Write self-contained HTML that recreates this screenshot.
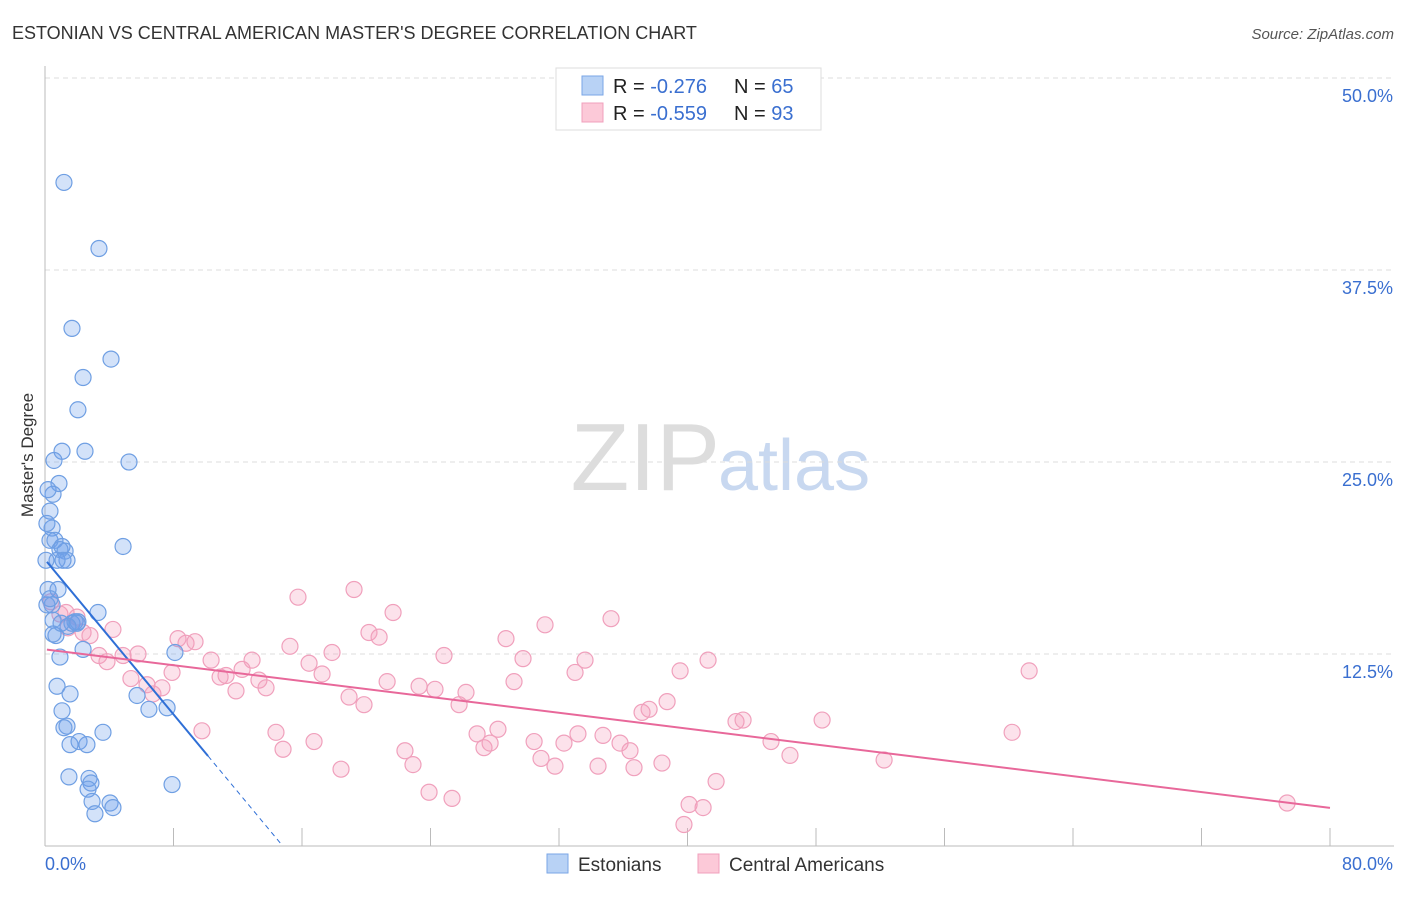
<!DOCTYPE html>
<html><head><meta charset="utf-8"><style>
body{margin:0;background:#fff;font-family:"Liberation Sans",sans-serif;}
svg text{font-family:"Liberation Sans",sans-serif;}
</style></head><body>
<svg id="chart" width="1406" height="892">
<text x="12" y="39" font-size="18" fill="#333">ESTONIAN VS CENTRAL AMERICAN MASTER'S DEGREE CORRELATION CHART</text>
<text x="1394" y="39" font-size="15" fill="#555" font-style="italic" text-anchor="end">Source: ZipAtlas.com</text>
<text x="720" y="490" font-size="96" fill="#ddd" text-anchor="end" font-family="Liberation Serif">ZIP</text>
<text x="718" y="490" font-size="72" fill="#c8d8f0">atlas</text>
<text x="33" y="455" font-size="17" fill="#333" text-anchor="middle" transform="rotate(-90 33 455)">Master's Degree</text>
<g id="grid"></g><g id="ticks"></g><g id="marks"></g>
<g>
<rect x="556" y="68" width="265" height="62" fill="#fff" stroke="#ddd"/>
<rect x="582" y="76" width="21" height="19" fill="#b8d2f5" stroke="#7aa6e6"/>
<rect x="582" y="103" width="21" height="19" fill="#fcc9d8" stroke="#f0a0bc"/>
<text x="613" y="93" font-size="20" fill="#222">R = <tspan fill="#3a6fd0"> -0.276</tspan><tspan x="734">N = </tspan><tspan fill="#3a6fd0">65</tspan></text>
<text x="613" y="120" font-size="20" fill="#222">R = <tspan fill="#3a6fd0">-0.559</tspan><tspan x="734">N = </tspan><tspan fill="#3a6fd0">93</tspan></text>
</g>
<g>
<rect x="547" y="854" width="21" height="19" fill="#b8d2f5" stroke="#7aa6e6"/>
<text x="578" y="871" font-size="19" fill="#333">Estonians</text>
<rect x="698" y="854" width="21" height="19" fill="#fcc9d8" stroke="#f0a0bc"/>
<text x="729" y="871" font-size="19" fill="#333">Central Americans</text>
</g>
</svg>
<script>
const blueX=[1.18,3.36,1.68,4.11,2.37,2.05,1.06,2.49,0.56,5.23,0.87,0.50,0.19,0.31,0.44,0.12,0.31,0.62,1.06,1.25,0.93,1.37,0.75,0.06,0.19,0.81,0.44,3.30,0.50,1.87,1.68,2.05,0.68,2.37,0.93,4.86,8.09,0.75,1.56,5.73,6.47,7.60,1.06,1.37,1.18,3.61,1.56,2.12,2.61,1.49,2.74,2.86,2.68,7.91,2.93,4.05,4.23,3.11,0.50,1.43,1.12,0.12,1.99,1.00,0.31];
const blueY=[43.2,38.9,33.7,31.7,30.5,28.4,25.7,25.7,25.1,25.0,23.6,22.9,23.2,21.8,20.7,21.0,19.9,19.9,19.5,19.2,19.3,18.6,18.6,18.6,16.7,16.7,15.7,15.2,14.7,14.6,14.5,14.6,13.7,12.8,12.3,19.5,12.6,10.4,9.9,9.8,8.9,9.0,8.8,7.8,7.7,7.4,6.6,6.8,6.6,4.5,4.4,4.1,3.7,4.0,2.9,2.8,2.5,2.1,13.8,14.3,18.6,15.7,14.5,14.5,16.1];
const pinkX=[0.37,0.93,1.31,1.99,1.43,2.37,2.80,4.23,3.36,3.86,4.86,5.79,5.35,6.35,6.72,7.28,7.91,8.28,8.78,9.34,9.77,10.34,10.90,11.27,11.89,12.27,12.89,13.32,13.76,14.38,14.82,15.25,15.75,16.44,16.75,17.25,17.87,18.43,18.93,19.24,19.86,20.17,20.80,21.30,21.67,22.41,22.91,23.29,23.91,24.28,24.84,25.34,25.78,26.21,26.90,27.33,27.71,28.20,28.70,29.20,29.76,30.45,30.88,31.13,31.75,32.31,33.00,33.18,33.62,34.43,34.74,35.24,35.80,36.42,36.67,37.17,37.61,38.41,38.73,39.54,40.10,39.78,40.97,41.28,41.78,43.02,43.46,45.20,46.38,48.38,52.24,60.21,61.27,77.33];
const pinkY=[15.9,15.1,15.2,14.9,14.2,13.9,13.7,14.1,12.4,12.0,12.4,12.5,10.9,10.5,9.9,10.3,11.3,13.5,13.2,13.3,7.5,12.1,11.0,11.1,10.1,11.5,12.1,10.8,10.3,7.4,6.3,13.0,16.2,11.9,6.8,11.2,12.6,5.0,9.7,16.7,9.2,13.9,13.6,10.7,15.2,6.2,5.3,10.4,3.5,10.2,12.4,3.1,9.2,10.0,7.3,6.4,6.7,7.6,13.5,10.7,12.2,6.8,5.7,14.4,5.2,6.7,11.3,7.3,12.1,5.2,7.2,14.8,6.7,6.2,5.1,8.7,8.9,5.4,9.4,11.4,2.7,1.4,2.5,12.1,4.2,8.1,8.2,6.8,5.9,8.2,5.6,7.4,11.4,2.8];
const yTicks=[12.5,25.0,37.5,50.0];
const xTickVals=[0,8,16,24,32,40,48,56,64,72,80];
const blueTrend=[18.65,-1.26];
const pinkTrend=[12.8,-0.129];
const NS='http://www.w3.org/2000/svg';
const sx=v=>45+v/80*1285, sy=v=>846-v*15.36;
function mk(tag,attrs,parent){const e=document.createElementNS(NS,tag);for(const k in attrs)e.setAttribute(k,attrs[k]);document.getElementById(parent).appendChild(e);return e;}
yTicks.forEach(t=>{
 const l=mk('line',{x1:45,x2:1394,y1:sy(t),y2:sy(t),stroke:'#ddd','stroke-dasharray':'5,4'},'grid');
 
 
 const tx=mk('text',{x:1393,y:sy(t)+24,'font-size':18,fill:'#3a6fd0','text-anchor':'end'},'ticks');tx.textContent=t.toFixed(1)+'%';
 
 
});
const ax=mk('line',{x1:45,x2:1394,y1:846,y2:846,stroke:'#bbb'},'grid');


const ay=mk('line',{x1:45,x2:45,y1:66,y2:846,stroke:'#bbb'},'grid');


xTickVals.forEach(t=>{
 const l=mk('line',{x1:sx(t),x2:sx(t),y1:828,y2:846,stroke:'#bbb'},'ticks');
 
 
});
const x0=mk('text',{x:45,y:870,'font-size':18,fill:'#3a6fd0'},'ticks');x0.textContent='0.0%';


const x1=mk('text',{x:1393,y:870,'font-size':18,fill:'#3a6fd0','text-anchor':'end'},'ticks');x1.textContent='80.0%';


pinkX.forEach((v,i)=>{
 const c=mk('circle',{cx:sx(v),cy:sy(pinkY[i]),r:8,fill:'rgba(245,160,190,0.3)',stroke:'#f0a0bc','stroke-width':1.2},'marks');
 
 
});
blueX.forEach((v,i)=>{
 const c=mk('circle',{cx:sx(v),cy:sy(blueY[i]),r:8,fill:'rgba(110,160,235,0.3)',stroke:'#6f9fe3','stroke-width':1.2},'marks');
 
 
});
const bx0=0.12,bx1=10.15,bxz=-blueTrend[0]/blueTrend[1];
const bl=mk('line',{x1:sx(bx0),y1:sy(blueTrend[0]+blueTrend[1]*bx0),x2:sx(bx1),y2:sy(blueTrend[0]+blueTrend[1]*bx1),stroke:'#2f6fd6','stroke-width':2},'marks');


const bd=mk('line',{x1:sx(bx1),y1:sy(blueTrend[0]+blueTrend[1]*bx1),x2:sx(bxz),y2:sy(0),stroke:'#2f6fd6','stroke-width':1,'stroke-dasharray':'5,4'},'marks');


const pl=mk('line',{x1:sx(0.12),y1:sy(pinkTrend[0]+pinkTrend[1]*0.12),x2:sx(80),y2:sy(pinkTrend[0]+pinkTrend[1]*80),stroke:'#e8689a','stroke-width':2},'marks');


</script>
</body></html>
